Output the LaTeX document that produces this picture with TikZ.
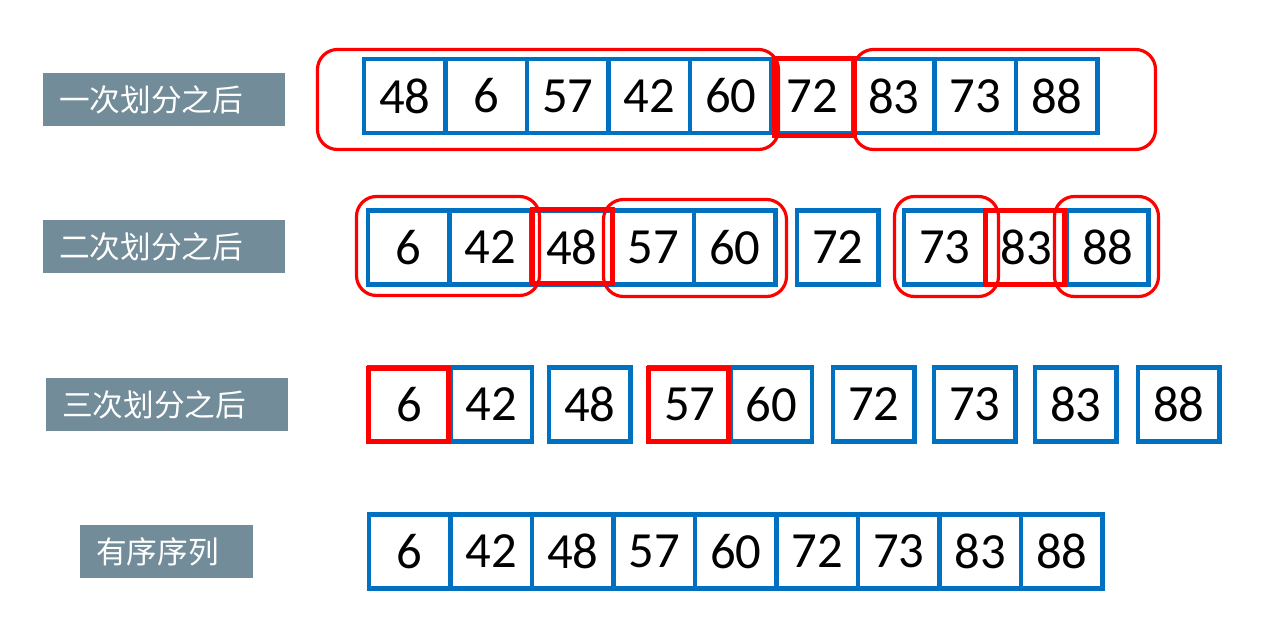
\documentclass[tikz,border=0pt]{standalone}
\usepackage{fontspec}
\setmainfont{Carlito}
\newfontfamily\cjk{Noto Sans CJK SC}
\definecolor{cellblue}{HTML}{0070C0}
\definecolor{labgray}{HTML}{728C99}
\definecolor{pred}{HTML}{FF0000}
\begin{document}
\begin{tikzpicture}[x=0.75pt,y=-0.75pt,
  cell/.style={draw=cellblue,line width=3.4pt,minimum width=61.125pt,minimum height=55.5pt,inner sep=0pt,font=\fontsize{38}{40}\selectfont,text=black},
  redsq/.style={draw=pred,line width=3.8pt},
  grp/.style={draw=pred,line width=2.4pt,rounded corners=15pt},
  lab/.style={fill=labgray,text=white,anchor=north west,inner xsep=12pt,inner ysep=0pt,minimum height=39.75pt,align=left,font=\cjk\fontsize{23}{25}\selectfont}]
\useasboundingbox (0,0) rectangle (1286,638);
% labels
\node[lab,text width=157.5pt] (l1) at (43,73) {一次划分之后};
\node[lab,text width=157.5pt] (l2) at (43,220) {二次划分之后};
\node[lab,text width=157.5pt] (l3) at (46,378) {三次划分之后};
\node[lab,text width=105.75pt] (l4) at (80,525) {有序序列};
% row 1
\foreach \v [count=\i from 0] in {48,6,57,42,60,72,83,73,88}
  \node[cell] (a\i) at ({364+81.5*(\i+0.5)},96) {\v};
\draw[redsq] (775,58.5) rectangle (854.5,135.5);
\draw[grp] (317.5,49.5) rectangle (778.5,149.5);
\draw[grp] (853.5,49.5) rectangle (1155.5,149.5);
% row 2
\foreach \v [count=\i from 0] in {6,42,48,57,60}
  \node[cell] (b\i) at ({368+81.5*(\i+0.5)},247.5) {\v};
\node[cell] (b5) at ({797+40.75},247.5) {72};
\foreach \v [count=\i from 6] in {73,83,88}
  \node[cell] (b\i) at ({904+81.5*(\i-6+0.5)},247.5) {\v};
\draw[redsq] (532.5,209.5) rectangle (612.5,283.5);
\draw[redsq] (985.5,210.5) rectangle (1064.5,284.5);
\draw[grp] (356.5,196.5) rectangle (539.5,295.5);
\draw[grp] (603.5,199.5) rectangle (786.5,296.5);
\draw[grp] (894.5,196.5) rectangle (998.5,296.5);
\draw[grp] (1054.5,196.5) rectangle (1158.5,296.5);
% row 3
\foreach \v/\l [count=\i from 0] in {6/369,42/450.5,48/549,57/649,60/730.5,72/833,73/934,83/1035,88/1138}
  \node[cell] (c\i) at ({\l+40.75},404.5) {\v};
\draw[redsq] (368.5,368.5) rectangle (448.5,441.5);
\draw[redsq] (648.5,368.5) rectangle (728.5,441.5);
% row 4
\foreach \v [count=\i from 0] in {6,42,48,57,60,72,73,83,88}
  \node[cell] (d\i) at ({369+81.5*(\i+0.5)},551.5) {\v};
\end{tikzpicture}
\end{document}
